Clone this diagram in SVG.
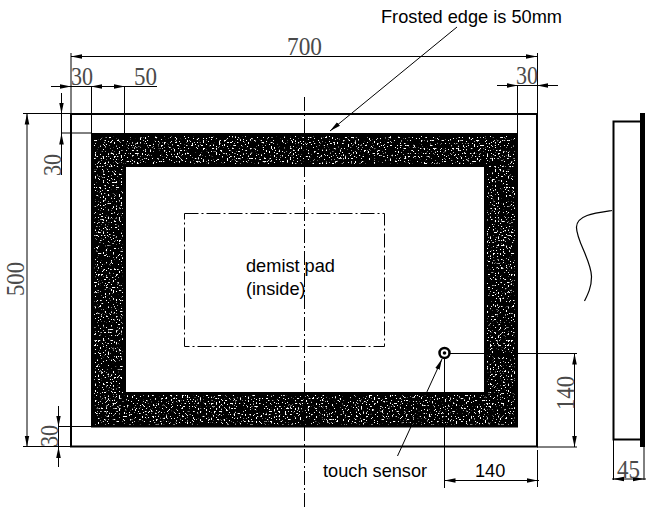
<svg xmlns="http://www.w3.org/2000/svg" width="660" height="508" viewBox="0 0 660 508">
<style>
.d{fill:none;stroke:#000;stroke-width:1}
.o{fill:none;stroke:#000;stroke-width:2}
.cl{fill:none;stroke:#000;stroke-width:1;stroke-dasharray:14 3 2 3}
.a{fill:none;stroke:none;marker-end:url(#ah)}
.n{font-family:"Liberation Serif",serif;font-size:24.500px;fill:#4a4a4a}
.t{font-family:"Liberation Sans",Arial,sans-serif;font-size:18.200px;fill:#000}
</style>
<defs>
<marker id="ah" markerUnits="userSpaceOnUse" markerWidth="12" markerHeight="6" refX="11" refY="3" orient="auto"><path d="M0 0.700L11 3L0 5.300Z" fill="#000"/></marker>
<filter id="speck" x="0" y="0" width="1" height="1" color-interpolation-filters="sRGB">
<feTurbulence type="fractalNoise" baseFrequency="0.62" numOctaves="1" seed="7" result="n"/>
<feColorMatrix in="n" type="matrix" values="0 0 0 0 1  0 0 0 0 1  0 0 0 0 1  16 0 0 0 -9.700" result="w"/>
<feMorphology in="SourceAlpha" operator="erode" radius="2.500" result="inner"/>
<feComposite in="w" in2="inner" operator="in" result="s"/>
<feMerge><feMergeNode in="SourceGraphic"/><feMergeNode in="s"/></feMerge>
</filter>
</defs>
<g id="frosted-edge"><path d="M91 133H518V427.500H91ZM126 167V392H484V167Z" fill="#000" fill-rule="evenodd" filter="url(#speck)"/></g>
<g id="mirror"><rect x="71" y="114" width="466" height="332.500" class="o"/></g>
<g id="demist-pad"><rect x="184.500" y="213.500" width="200" height="133" class="cl"/>
<text class="t" x="246" y="272">demist pad</text><text class="t" x="246" y="295">(inside)</text></g>
<g id="touch-sensor"><circle cx="444.500" cy="353" r="5" fill="#fff" stroke="#000" stroke-width="2.500"/><circle cx="444.500" cy="353" r="1.800" fill="#000"/>
<text class="t" x="323" y="477">touch sensor</text></g>
<g id="side-view"><path d="M640 121.500H613.500V439.500H640" class="o"/><rect x="640" y="113" width="5" height="334" fill="#000"/>
<path d="M612 210.500C595 213 577 215 576.500 227C576 240 592 262 591.500 277C591.500 287 588 294 584.500 301" fill="none" stroke="#000" stroke-width="1.200"/></g>
<g id="connectors">
<path class="cl" d="M304.500 97V508"/>
<path class="d" d="M71 53V114M71 56.500H537M537.500 53V114"/>
<path class="a" d="M100 56.500H71"/><path class="a" d="M510 56.500H537"/>
<path class="d" d="M51 86.500H157M91.500 86V133M124.500 86V133"/>
<path class="a" d="M51 86.500H71"/><path class="a" d="M110 86.500H91"/><path class="a" d="M100 86.500H125"/>
<path class="d" d="M497 85.500H558M517.500 85V133"/>
<path class="a" d="M497 85.500H518"/><path class="a" d="M558 85.500H537"/>
<path class="d" d="M23 113.500H71M23 446.500H71M27 113.500V446.500"/>
<path class="a" d="M27 140V113.500"/><path class="a" d="M27 420V446.500"/>
<path class="d" d="M61.500 93V175M61.500 133H91"/>
<path class="a" d="M61.500 93V113.500"/><path class="a" d="M61.500 160V133.500"/>
<path class="d" d="M58.500 406V467M58.500 426.500H91"/>
<path class="a" d="M58.500 406V426.500"/><path class="a" d="M58.500 467V447"/>
<path class="d" d="M450 353.500H577M537 447H577M574.500 353.500V447"/>
<path class="a" d="M574.500 380V353.500"/><path class="a" d="M574.500 420V447"/>
<path class="d" d="M444.500 358V488M537.500 450V487M444 480.500H539"/>
<path class="a" d="M470 480.500H444.500"/><path class="a" d="M510 480.500H537.500"/>
<path class="d" d="M613.500 440V480M644 447V480M612 479H646"/>
<path class="a" d="M630 479H613"/><path class="a" d="M628 479H644"/>
<path class="d" d="M457 27L330 131" marker-end="url(#ah)"/>
<path class="d" d="M397.500 456L442 359" marker-end="url(#ah)"/>
</g>
<g id="dimension-labels">
<text class="n" x="287" y="55" textLength="35" lengthAdjust="spacingAndGlyphs">700</text>
<text class="n" x="71" y="85" textLength="22" lengthAdjust="spacingAndGlyphs">30</text>
<text class="n" x="134" y="85" textLength="23" lengthAdjust="spacingAndGlyphs">50</text>
<text class="n" x="516" y="84" textLength="22" lengthAdjust="spacingAndGlyphs">30</text>
<text class="n" transform="translate(24 296) rotate(-90)" textLength="34" lengthAdjust="spacingAndGlyphs">500</text>
<text class="n" transform="translate(61 176) rotate(-90)" textLength="22" lengthAdjust="spacingAndGlyphs">30</text>
<text class="n" transform="translate(58 447) rotate(-90)" textLength="22" lengthAdjust="spacingAndGlyphs">30</text>
<text class="n" transform="translate(574 410) rotate(-90)" textLength="34" lengthAdjust="spacingAndGlyphs">140</text>
<text class="n" x="617" y="478" textLength="23" lengthAdjust="spacingAndGlyphs">45</text>
<text class="t" x="475" y="477">140</text>
<text class="t" x="381" y="23">Frosted edge is 50mm</text>
</g>
</svg>
